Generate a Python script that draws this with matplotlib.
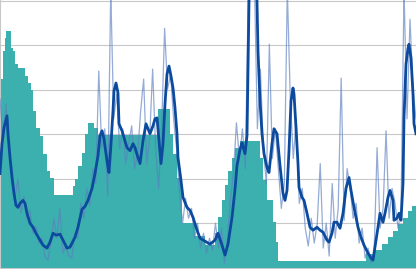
import numpy as np
import matplotlib
matplotlib.use("Agg")
import matplotlib.pyplot as plt
from matplotlib.ticker import MultipleLocator

# === DATA ===
# teal step area: start of each step and its height
teal_x = [0, 3, 5, 6, 11, 13, 15, 18, 25, 28, 31, 33, 36, 40, 43, 47, 50, 54,
          73, 75, 78, 82, 85, 88, 94, 98, 158, 170, 173, 177, 182, 195, 205,
          215, 218, 222, 225, 228, 232, 235, 240, 260, 263, 267, 273, 276, 278,
          366, 374, 382, 388, 393, 398, 403, 408, 412]
teal_h = [190, 218, 231, 238, 221, 218, 205, 201, 193, 186, 179, 158, 141, 133,
          115, 98, 91, 73, 82, 90, 103, 116, 135, 146, 141, 134, 160, 135, 115,
          91, 45, 32, 23, 35, 51, 68, 83, 98, 111, 121, 128, 111, 88, 68, 46,
          26, 7, 14, 18, 24, 31, 37, 44, 50, 57, 62]

# thin raw series (evenly spaced)
raw = [170, 130, 165, 120, 100, 70, 90, 55, 72, 50,
       58, 35, 42, 25, 30, 12, 8, 25, 50, 30,
       60, 15, 22, 12, 10, 35, 30, 65, 50, 80,
       62, 100, 85, 198, 120, 140, 72, 280, 150, 175,
       120, 140, 105, 125, 143, 100, 115, 158, 190, 105,
       130, 200, 120, 80, 140, 241, 180, 195, 150, 120,
       75, 45, 70, 50, 60, 30, 45, 20, 35, 15,
       30, 18, 45, 20, 40, 5, 30, 70, 95, 146,
       110, 140, 100, 290, 290, 290, 140, 200, 120, 85,
       225, 110, 140, 100, 60, 85, 280, 170, 110, 150,
       65, 80, 40, 22, 50, 25, 45, 105, 20, 45,
       12, 85, 30, 60, 191, 48, 100, 80, 50, 65,
       25, 40, 10, 20, 5, 15, 121, 40, 60, 138,
       50, 80, 65, 40, 60, 280, 150, 250, 180, 150]

# smoothed series
smooth_x = [0, 2, 4, 7, 8, 10, 12, 14, 16, 18, 20, 23, 25, 27, 30, 33, 36, 40,
            43, 47, 50, 53, 56, 60, 63, 67, 70, 75, 78, 82, 85, 88, 92, 95, 98,
            100, 102, 104, 106, 108, 109, 111, 113, 114, 116, 118, 119, 122,
            125, 127, 130, 133, 135, 138, 140, 143, 146, 148, 150, 153, 155,
            157, 159, 161, 163, 165, 167, 169, 171, 173, 175, 177, 178, 181,
            183, 187, 190, 193, 197, 200, 205, 210, 215, 218, 222, 225, 228,
            232, 235, 237, 240, 242, 243, 245, 247, 248, 249, 251, 253, 255,
            257, 258, 260, 262, 264, 267, 269, 272, 274, 277, 280, 283, 285,
            287, 289, 291, 293, 294, 296, 298, 299, 302, 304, 307, 310, 313,
            317, 320, 323, 327, 329, 332, 334, 337, 340, 343, 346, 349, 351,
            354, 358, 361, 364, 368, 371, 373, 375, 378, 380, 383, 385, 388,
            390, 393, 394, 397, 399, 401, 403, 404, 406, 408, 409, 411, 413,
            414, 416]
smooth_y = [95, 125, 141, 153, 135, 111, 91, 75, 63, 61, 65, 68, 65, 55, 45,
            41, 35, 28, 23, 20, 26, 35, 33, 34, 28, 20, 21, 31, 41, 59, 62, 68,
            80, 95, 113, 133, 138, 130, 115, 101, 96, 125, 158, 178, 186, 176,
            145, 138, 128, 121, 118, 125, 121, 111, 105, 128, 145, 140, 135,
            143, 150, 151, 128, 105, 125, 165, 195, 203, 193, 181, 161, 135,
            111, 88, 71, 61, 58, 51, 38, 30, 27, 24, 28, 35, 23, 13, 24, 51,
            79, 103, 119, 126, 122, 115, 133, 201, 268, 300, 320, 300, 268,
            218, 168, 135, 115, 101, 96, 125, 140, 135, 103, 75, 68, 78, 118,
            168, 181, 175, 141, 105, 81, 71, 68, 55, 41, 38, 41, 38, 36, 28,
            26, 35, 46, 46, 40, 55, 80, 91, 78, 61, 41, 31, 23, 15, 10, 8, 21,
            41, 55, 46, 55, 71, 78, 68, 48, 50, 55, 48, 85, 151, 205, 221, 225,
            211, 175, 145, 135]

raw_x = np.linspace(0, 416, len(raw))

# === PLOT ===
fig = plt.figure(figsize=(4.16, 2.69), dpi=100)
ax = fig.add_axes([0, 0, 1, 1])

ax.fill_between(teal_x + [416], teal_h + [teal_h[-1]], step="post",
                color="#3bb0ae", lw=0, zorder=2)
ax.plot(raw_x, raw, color="#5b7fc0", alpha=0.65, lw=0.9, zorder=3)
ax.plot(smooth_x, smooth_y, color="#0c4a9d", lw=2.0, zorder=4,
        solid_joinstyle="round")

ax.set_xlim(0, 416)
ax.set_ylim(-1, 269.5)
ax.yaxis.set_major_locator(MultipleLocator(44.8))
ax.xaxis.set_major_locator(MultipleLocator(25))
ax.grid(axis="y", color="#c8c8c8", lw=0.8, zorder=1)
ax.tick_params(axis="x", direction="in", length=3, color="#888888",
               labelbottom=False)
ax.tick_params(axis="y", length=0, labelleft=False)
for s in ["top", "right"]:
    ax.spines[s].set_visible(False)
for s in ["left", "bottom"]:
    ax.spines[s].set_color("#c8c8c8")

fig.savefig("out.png", dpi=100)
